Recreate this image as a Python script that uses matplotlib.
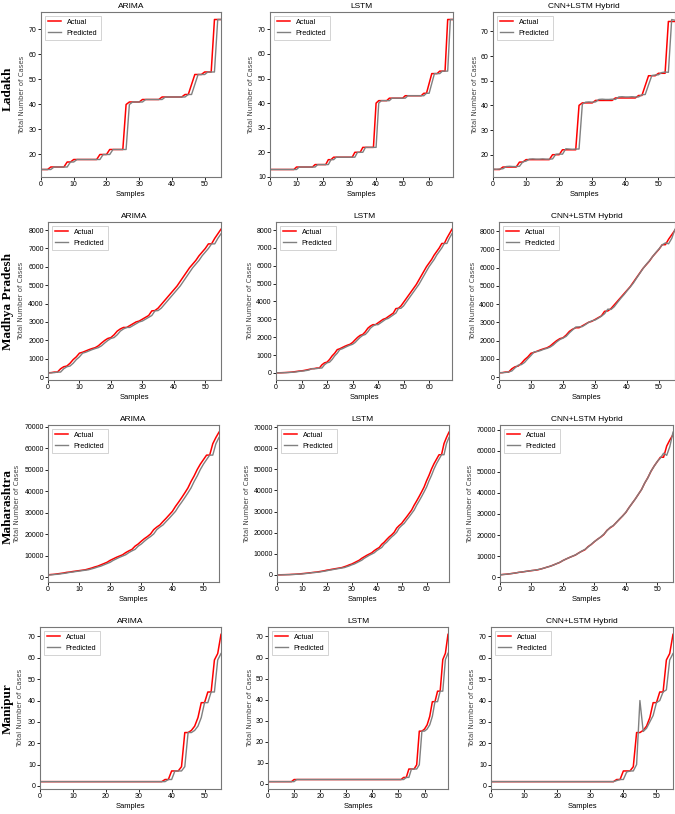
import matplotlib
matplotlib.use('Agg')
import matplotlib.pyplot as plt
from matplotlib import font_manager
import numpy as np

# a narrow sans if there is one, else Arial-metric Liberation Sans
installed = {f.name for f in font_manager.fontManager.ttflist}
main_font = next((n for n in ['Liberation Sans Narrow', 'DejaVu Sans Condensed', 'Liberation Sans']
                  if n in installed), 'DejaVu Sans')
narrow = main_font != 'Liberation Sans'
plt.rcParams['font.family'] = [main_font, 'DejaVu Sans']

# ---------------- data ----------------
states = ['Ladakh', 'Madhya Pradesh', 'Maharashtra', 'Manipur']
models = ['ARIMA', 'LSTM', 'CNN+LSTM Hybrid']

# Ladakh
ladakh_actual = [14, 14, 14, 15, 15, 15, 15, 15, 17, 17, 18, 18, 18, 18, 18, 18, 18, 18, 20, 20,
                 20, 22, 22, 22, 22, 22, 40, 41, 41, 41, 41, 42, 42, 42, 42, 42, 42, 43, 43, 43,
                 43, 43, 43, 43, 44, 44, 48, 52, 52, 52, 53, 53, 53, 74, 74, 74]
ladakh_arima = [14, 14, 14, 14, 15, 15, 15, 15, 15, 17, 17, 18, 18, 18, 18, 18, 18, 18, 18, 20,
                20, 20, 22, 22, 22, 22, 22, 40, 41, 41, 41, 41, 42, 42, 42, 42, 42, 42, 43, 43,
                43, 43, 43, 43, 43, 44, 44, 48, 52, 52, 52, 53, 53, 53, 74, 74]
ladakh_cnn = [14.2, 14.1, 14.2, 14.3, 15.2, 15.3, 15.2, 15.2, 15.3, 17.1, 17.4, 18.2, 18.3, 18.2,
              18.2, 18.3, 18.2, 18.2, 18.3, 20.2, 20.3, 20.2, 22.4, 22.3, 22.2, 22.3, 22.3, 40.5,
              41.3, 41.4, 41.3, 41.4, 42.4, 42.5, 42.4, 42.4, 42.5, 42.4, 43.4, 43.5, 43.4, 43.4,
              43.5, 43.4, 43.4, 44.3, 44.4, 48.3, 52.1, 52.3, 52.4, 53.3, 53.5, 53.4, 74.8, 74.5]
ladakh_lead = [13, 13, 13, 13, 13, 13, 13, 13, 13, 13, 14, 14, 14, 14]
ladakh_lead_pred = [13, 13, 13, 13, 13, 13, 13, 13, 13, 13, 13, 14, 14, 14]

# Madhya Pradesh
mp_actual = [230, 240, 270, 270, 450, 560, 600, 750, 950, 1100, 1300, 1350, 1420, 1490, 1550,
             1600, 1700, 1850, 1990, 2100, 2150, 2300, 2500, 2620, 2700, 2700, 2800, 2900, 3000,
             3050, 3150, 3250, 3350, 3600, 3620, 3750, 3950, 4150, 4350, 4550, 4750, 4950, 5200,
             5450, 5700, 5950, 6150, 6350, 6600, 6800, 7000, 7250, 7250, 7550, 7800, 8050]
mp_arima = [230, 230, 240, 270, 270, 450, 560, 600, 750, 950, 1100, 1300, 1350, 1420, 1490,
            1550, 1600, 1700, 1850, 1990, 2100, 2150, 2300, 2500, 2620, 2700, 2700, 2800, 2900,
            3000, 3050, 3150, 3250, 3350, 3600, 3620, 3750, 3950, 4150, 4350, 4550, 4750, 4950,
            5200, 5450, 5700, 5950, 6150, 6350, 6600, 6800, 7000, 7250, 7250, 7550, 7800]
mp_cnn = [240, 235, 250, 275, 330, 500, 650, 680, 800, 1000, 1180, 1380, 1400, 1450, 1520,
          1570, 1640, 1760, 1920, 2050, 2130, 2230, 2420, 2580, 2740, 2750, 2760, 2870, 2990,
          3080, 3120, 3220, 3330, 3470, 3720, 3700, 3850, 4080, 4300, 4500, 4720, 4930, 5150,
          5420, 5680, 5940, 6170, 6370, 6600, 6820, 7020, 7240, 7350, 7300, 7600, 8100]
mp_lead = [2, 4, 7, 14, 20, 29, 39, 56, 78, 98, 110, 134, 163, 195]
mp_lead_pred = [2, 2, 4, 7, 14, 20, 29, 39, 56, 78, 98, 110, 134, 163]

# Maharashtra
mh_actual = [1135, 1300, 1400, 1600, 1800, 2000, 2300, 2450, 2700, 2900,
             3100, 3300, 3500, 3900, 4300, 4800, 5200, 5800, 6400, 7000,
             7900, 8600, 9300, 9900, 10500, 11500, 12300, 13000, 14500, 15500,
             16800, 18000, 19000, 20200, 22200, 23400, 24400, 26000, 27500, 29100,
             30700, 33000, 35000, 37100, 39300, 41600, 44600, 47200, 50200, 52700,
             54800, 56900, 56900, 62200, 65100, 67600]
mh_arima = [1135, 1135, 1300, 1400, 1600, 1800, 2000, 2300, 2450, 2700,
            2900, 3100, 3300, 3500, 3900, 4300, 4800, 5200, 5800, 6400,
            7000, 7900, 8600, 9300, 9900, 10500, 11500, 12300, 13000, 14500,
            15500, 16800, 18000, 19000, 20200, 22200, 23400, 24400, 26000, 27500,
            29100, 30700, 33000, 35000, 37100, 39300, 41600, 44600, 47200, 50200,
            52700, 54800, 56900, 56900, 62200, 65100]
mh_cnn = [1100, 1250, 1420, 1580, 1780, 2050, 2280, 2480, 2680, 2920,
          3150, 3280, 3600, 3850, 4350, 4750, 5250, 5750, 6450, 7050,
          7850, 8650, 9250, 9950, 10600, 11400, 12400, 13200, 14300, 15600,
          16900, 17900, 19100, 20400, 22000, 23600, 24500, 25900, 27700, 29000,
          30800, 32900, 35100, 37000, 39400, 41500, 44700, 47100, 50300, 52600,
          54900, 56500, 58800, 57800, 62000, 68800]
mh_lead = [64, 89, 124, 153, 193, 215, 302, 335, 423, 490, 635, 748, 868, 1000]
mh_lead_pred = [64, 64, 89, 124, 153, 193, 215, 302, 335, 423, 490, 635, 748, 868]

# Manipur
mn_actual = [2, 2, 2, 2, 2, 2, 2, 2, 2, 2, 2, 2, 2, 2, 2, 2, 2, 2, 2, 2,
             2, 2, 2, 2, 2, 2, 2, 2, 2, 2, 2, 2, 2, 2, 2, 2, 2, 2, 3, 3,
             7, 7, 7, 9, 25, 25, 26, 28, 32, 39, 39, 44, 44, 59, 62, 71]
mn_arima = [2, 2, 2, 2, 2, 2, 2, 2, 2, 2, 2, 2, 2, 2, 2, 2, 2, 2, 2, 2,
            2, 2, 2, 2, 2, 2, 2, 2, 2, 2, 2, 2, 2, 2, 2, 2, 2, 2, 2, 3,
            3, 7, 7, 7, 9, 25, 25, 26, 28, 32, 39, 39, 44, 44, 59, 62]
mn_cnn = [2, 2, 2, 2, 2, 2, 2, 2, 2, 2, 2, 2, 2, 2, 2, 2, 2, 2, 2, 2,
          2, 2, 2, 2, 2, 2, 2, 2, 2, 2, 2, 2, 2, 2, 2, 2, 2, 2, 2.5, 3,
          3, 6.5, 7, 7, 10, 40, 25.5, 27, 30, 33, 39, 40, 44, 45, 59, 62]
mn_lead = [1, 1, 1, 1, 1, 1, 1, 1, 1, 1, 2, 2, 2, 2]
mn_lead_pred = [1, 1, 1, 1, 1, 1, 1, 1, 1, 1, 1, 2, 2, 2]

actual = [ladakh_actual, mp_actual, mh_actual, mn_actual]
arima_pred = [ladakh_arima, mp_arima, mh_arima, mn_arima]
cnn_pred = [ladakh_cnn, mp_cnn, mh_cnn, mn_cnn]
lead = [ladakh_lead, mp_lead, mh_lead, mn_lead]
lead_pred = [ladakh_lead_pred, mp_lead_pred, mh_lead_pred, mn_lead_pred]

# ---------------- layout (pixel boxes: left, right, top, bottom) ----------------
W, H = 675, 814
rows_y = [(12, 177), (222, 380), (425, 582), (627, 789)]
cols_x = [[(41, 221), (270, 453), (493, 675)],
          [(48, 221), (276, 452), (499, 675)],
          [(48, 219), (277, 449), (500, 673)],
          [(40, 221), (268, 448), (491, 673)]]
ylabel_x = [[25, 254, 478],
            [24, 253, 476],
            [20, 250, 473],
            [23, 253, 475]]
label_y = [89, 302, 507, 709]

actual_color = '#ff0000'
pred_color = '#808080'

fs_title = 6.5 if narrow else 6
fs_tick = 6 if narrow else 5
fs_leg = 5.8 if narrow else 5.2

fig = plt.figure(figsize=(W / 100, H / 100), dpi=100)

for r in range(4):
    a = actual[r]
    series = [(a, arima_pred[r]),
              (lead[r] + a, lead_pred[r] + arima_pred[r]),
              (a, cnn_pred[r])]
    top, bot = rows_y[r]
    for c in range(3):
        l, rr = cols_x[r][c]
        ax = fig.add_axes([l / W, 1 - bot / H, (rr - l) / W, (bot - top) / H])
        act, pred = series[c]
        assert len(act) == len(pred)
        x = np.arange(len(act))
        ax.plot(x, act, color=actual_color, lw=1.1, label='Actual')
        ax.plot(x, pred, color=pred_color, lw=1.0, label='Predicted')
        ax.set_xlim(0, len(act) - 1)
        ax.set_title(models[c], fontsize=fs_title, pad=3)
        ax.set_xlabel('Samples', fontsize=fs_title - 0.5, labelpad=2)
        ax.set_ylabel('Total Number of Cases', fontsize=5, color='#444444',
                      family=['DejaVu Sans'])
        ax.yaxis.set_label_coords((ylabel_x[r][c] - l) / (rr - l), 0.5)
        ax.tick_params(labelsize=fs_tick, length=2, width=0.6, pad=1)
        for s in ax.spines.values():
            s.set_color('#777777')
            s.set_linewidth(0.8)
        leg = ax.legend(loc='upper left', fontsize=fs_leg, handlelength=1.8,
                        borderpad=0.45, labelspacing=0.55, framealpha=1, fancybox=False)
        leg.get_frame().set_edgecolor('#cccccc')
        leg.get_frame().set_linewidth(0.6)

    fig.text(8 / W, 1 - label_y[r] / H, states[r], rotation=90, ha='center', va='center',
             fontsize=9.5, fontweight='bold', family='Liberation Serif')

plt.savefig('out.png', dpi=100)
